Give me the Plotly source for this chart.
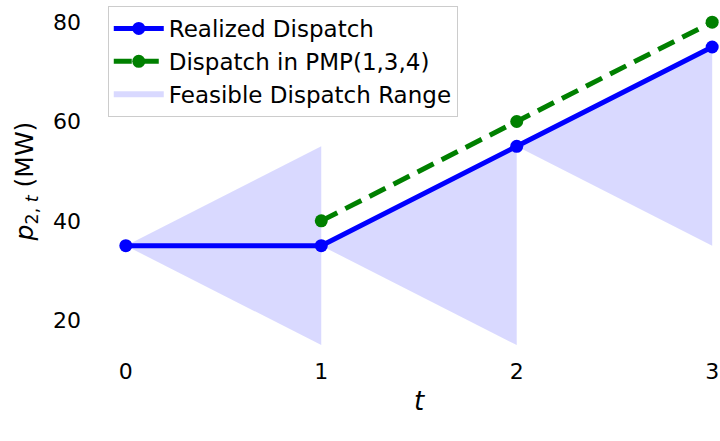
import plotly.graph_objects as go

t = [0, 1, 2, 3]
realized = [35, 35, 55, 75]
pmp_t = [1, 2, 3]
pmp = [40, 60, 80]
range_lower = [15, 15, 35]
range_upper = [55, 55, 75]

fig = go.Figure()

fill_color = "rgba(0,0,255,0.15)"
for i in range(3):
    fig.add_trace(go.Scatter(
        x=[t[i], t[i + 1], t[i + 1], t[i]],
        y=[realized[i], range_upper[i], range_lower[i], realized[i]],
        fill="toself", fillcolor=fill_color, mode="none",
        name="Feasible Dispatch Range", legendgroup="range",
        showlegend=(i == 0), legendrank=3, hoverinfo="skip",
    ))

fig.add_trace(go.Scatter(
    x=pmp_t, y=pmp, mode="lines+markers", name="Dispatch in PMP(1,3,4)",
    line=dict(color="green", width=5, dash="18px,9px"),
    marker=dict(size=13, color="green"), legendrank=2,
))
fig.add_trace(go.Scatter(
    x=t, y=realized, mode="lines+markers", name="Realized Dispatch",
    line=dict(color="blue", width=5),
    marker=dict(size=13, color="blue"), legendrank=1,
))

font = "DejaVu Sans"
fig.update_layout(
    width=720, height=441,
    margin=dict(l=118, r=0, t=6, b=85),
    paper_bgcolor="white", plot_bgcolor="white",
    font=dict(family=font, size=22, color="black"),
    legend=dict(
        x=-0.017, y=1.0, xanchor="left", yanchor="top",
        bgcolor="rgba(255,255,255,0.8)", bordercolor="#cccccc", borderwidth=1,
        font=dict(size=23), itemwidth=50, tracegroupgap=0,
    ),
    xaxis=dict(
        range=[-0.04, 3.04], tickvals=[0, 1, 2, 3], showgrid=False,
        zeroline=False, showline=False, ticks="",
        title=dict(text="<i>t</i>", font=dict(size=26), standoff=8),
    ),
    yaxis=dict(
        range=[12.8, 83.25], tickvals=[20, 40, 60, 80], showgrid=False,
        zeroline=False, showline=False, ticks="", ticklabelstandoff=36,
        title=dict(text="<i>p</i><sub>2, <i>t</i></sub> (MW)", font=dict(size=25), standoff=12),
    ),
)

fig.write_html("out.html")
